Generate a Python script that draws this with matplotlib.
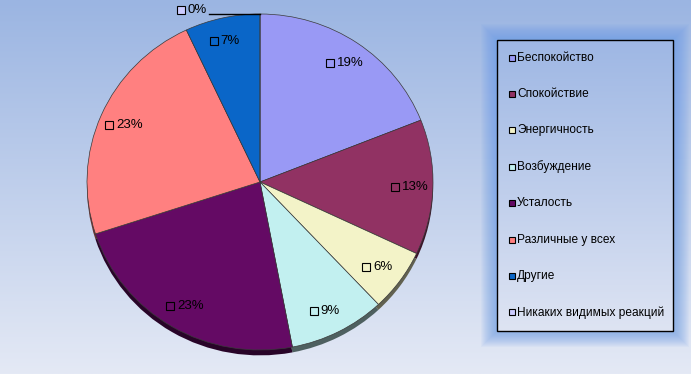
import numpy as np
import matplotlib
matplotlib.use('Agg')
from matplotlib import pyplot as plt
from matplotlib.patches import Rectangle

plt.rcParams['font.family'] = ['Liberation Sans', 'DejaVu Sans']

# Data
categories = ['Беспокойство', 'Спокойствие', 'Энергичность', 'Возбуждение',
              'Усталость', 'Различные у всех', 'Другие', 'Никаких видимых реакций']
values = [19, 13, 6, 9, 23, 23, 7, 0]
colors = ['#9999F5', '#913263', '#F3F3C8', '#C2F0F0', '#640A64', '#FF8080', '#0A66C8', '#CCCCFF']

W, H = 691, 374
fig = plt.figure(figsize=(W / 100, H / 100), dpi=100)

# background gradient
bg = fig.add_axes([0, 0, 1, 1])
bg.set_xlim(0, W)
bg.set_ylim(H, 0)
bg.axis('off')
top = np.array([155, 181, 226]) / 255
bot = np.array([228, 233, 245]) / 255
t = np.linspace(0, 1, 200)[:, None]
grad = top * (1 - t) + bot * t
bg.imshow(grad[:, None, :].repeat(2, axis=1), extent=[0, W, H, 0], aspect='auto', zorder=0)

# legend box with soft glow
lx0, ly0, lx1, ly1 = 497, 40, 673, 331
for g in range(16, 0, -1):
    bg.add_patch(Rectangle((lx0 - g, ly0 - g), lx1 - lx0 + 2 * g, ly1 - ly0 + 2 * g,
                           facecolor='#6A9BE6', edgecolor='none', alpha=0.06, zorder=1))
ltop = np.array([158, 183, 228]) / 255
lbot = np.array([222, 228, 243]) / 255
lgrad = ltop * (1 - t) + lbot * t
bg.imshow(lgrad[:, None, :].repeat(2, axis=1), extent=[lx0, lx1, ly1, ly0],
          aspect='auto', zorder=2)
bg.add_patch(Rectangle((lx0, ly0), lx1 - lx0, ly1 - ly0, facecolor='none',
                       edgecolor='black', lw=1.0, zorder=3))
for i, (name, c) in enumerate(zip(categories, colors)):
    y = 57.5 + i * 36.4
    bg.plot(512, y, marker='s', ms=5, mfc=c, mec='black', mew=0.8, zorder=4)
    bg.text(517, y, name, fontsize=8.6, va='center', ha='left', color='black', zorder=4)

# pie
cx, cy, rx, ry = 260, 182, 173, 168
pax = fig.add_axes([(cx - rx) / W, (H - cy - ry) / H, 2 * rx / W, 2 * ry / H])
shadow = [tuple(np.array(matplotlib.colors.to_rgb(c)) * 0.4) for c in colors]
pax.pie(values, colors=shadow, startangle=90, counterclock=False, radius=1,
        center=(0, -0.032), wedgeprops=dict(edgecolor='none'))
pax.pie(values, colors=colors, startangle=90, counterclock=False, radius=1,
        wedgeprops=dict(edgecolor='#3a3a3a', linewidth=0.5))
pax.set_aspect('auto')
pax.set_xlim(-1, 1)
pax.set_ylim(-1, 1)
pax.axis('off')

# overlay for data labels
ov = fig.add_axes([0, 0, 1, 1])
ov.set_xlim(0, W)
ov.set_ylim(H, 0)
ov.axis('off')

cum = np.cumsum([0] + values)
for i, v in enumerate(values):
    if v == 0:
        continue
    mid = np.deg2rad(90 - (cum[i] + v / 2) * 3.6)
    r = 0.86
    x, y = r * np.cos(mid), r * np.sin(mid)
    px, py = cx + rx * x, cy - ry * y
    ov.plot(px - 14, py, marker='s', ms=5.5, mfc=colors[i], mec='black', mew=0.8)
    ov.text(px - 7, py, f'{v}%', fontsize=9.5, va='center', ha='left')

# zero slice label with leader line
ov.plot(181, 10, marker='s', ms=5.5, mfc=colors[7], mec='black', mew=0.8)
ov.text(188, 10, f'{values[7]}%', fontsize=9.5, va='center', ha='left')
ov.plot([209, cx], [14, 14], color='black', lw=1.0)

fig.savefig('out.png', dpi=100)
